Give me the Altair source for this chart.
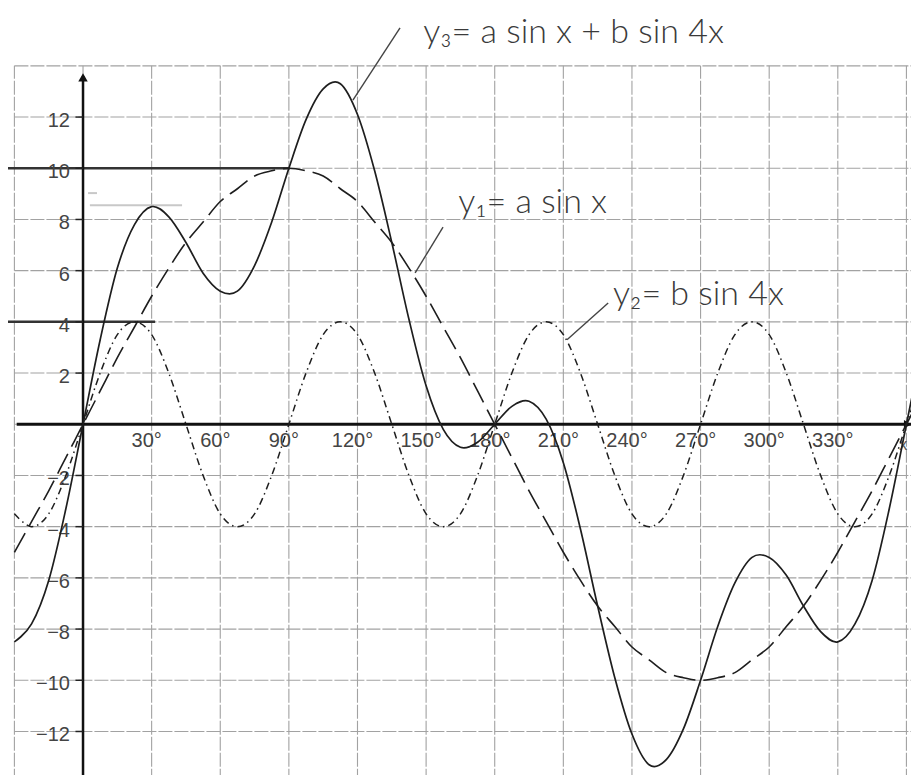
import altair as alt
import pandas as pd

# ---- data (degrees, function values) ----
X_DEG = [-30, -22.5, -15, -7.5, 0, 7.5, 15, 22.5, 30, 37.5, 45, 52.5, 60, 67.5, 75, 82.5,
         90, 97.5, 105, 112.5, 120, 127.5, 135, 142.5, 150, 157.5, 165, 172.5,
         180, 187.5, 195, 202.5, 210, 217.5, 225, 232.5, 240, 247.5, 255, 262.5,
         270, 277.5, 285, 292.5, 300, 307.5, 315, 322.5, 330, 337.5, 345, 352.5, 360, 367.5]
Y1 = [-5.0, -3.8, -2.6, -1.3, 0.0, 1.3, 2.6, 3.8, 5.0, 6.1, 7.1, 7.9, 8.7, 9.2, 9.7, 9.9,
      10.0, 9.9, 9.7, 9.2, 8.7, 7.9, 7.1, 6.1, 5.0, 3.8, 2.6, 1.3,
      0.0, -1.3, -2.6, -3.8, -5.0, -6.1, -7.1, -7.9, -8.7, -9.2, -9.7, -9.9,
      -10.0, -9.9, -9.7, -9.2, -8.7, -7.9, -7.1, -6.1, -5.0, -3.8, -2.6, -1.3, 0.0, 1.3]
Y2 = [-3.5, -4.0, -3.5, -2.0, 0.0, 2.0, 3.5, 4.0, 3.5, 2.0, 0.0, -2.0, -3.5, -4.0, -3.5, -2.0,
      0.0, 2.0, 3.5, 4.0, 3.5, 2.0, 0.0, -2.0, -3.5, -4.0, -3.5, -2.0,
      0.0, 2.0, 3.5, 4.0, 3.5, 2.0, 0.0, -2.0, -3.5, -4.0, -3.5, -2.0,
      0.0, 2.0, 3.5, 4.0, 3.5, 2.0, 0.0, -2.0, -3.5, -4.0, -3.5, -2.0, 0.0, 2.0]
Y3 = [-8.5, -7.8, -6.1, -3.3, 0.0, 3.3, 6.1, 7.8, 8.5, 8.1, 7.1, 5.9, 5.2, 5.2, 6.2, 7.9,
      10.0, 11.9, 13.1, 13.3, 12.1, 9.9, 7.1, 4.1, 1.5, -0.2, -0.9, -0.7,
      0.0, 0.7, 0.9, 0.2, -1.5, -4.1, -7.1, -9.9, -12.1, -13.3, -13.1, -11.9,
      -10.0, -7.9, -6.2, -5.2, -5.2, -5.9, -7.1, -8.1, -8.5, -7.8, -6.1, -3.3, 0.0, 3.3]

GRID_X = [-30, 0, 30, 60, 90, 120, 150, 180, 210, 240, 270, 300, 330, 360]
GRID_Y = [-14, -12, -10, -8, -6, -4, -2, 0, 2, 4, 6, 8, 10, 12, 14]

Y_TICKS = [-12, -10, -8, -6, -4, -2, 2, 4, 6, 8, 10, 12]
Y_LABELS = ["\u221212", "\u221210", "\u22128", "\u22126", "\u22124", "\u22122",
            "2", "4", "6", "8", "10", "12"]
X_TICKS = [30, 60, 90, 120, 150, 180, 210, 240, 270, 300, 330]
X_LABELS = ["30°", "60°", "90°", "120°", "150°", "180°", "210°", "240°", "270°", "300°", "330°"]

EQ_TEXT = ["y\u2083= a sin x + b sin 4x", "y\u2081= a sin x", "y\u2082= b sin 4x"]
EQ_X = [148.7, 164.0, 231.7]
EQ_Y = [14.9, 8.25, 4.66]
LEAD_X = [118.0, 145.2, 211.6]
LEAD_Y = [12.66, 5.91, 3.3]
LEAD_X2 = [138.6, 157.4, 229.6]
LEAD_Y2 = [15.48, 7.7, 4.74]

# hand drawn helper lines (value, from, to)
HAND_Y = [10.0, 4.0]
HAND_X1 = [-34.0, -34.0]
HAND_X2 = [90.5, 31.5]

XD = [-32.8, 362.0]
YD = [-13.70, 16.26]

xs = alt.Scale(domain=XD, nice=False, zero=False)
ys = alt.Scale(domain=YD, nice=False, zero=False)

curves = pd.DataFrame({"x": X_DEG, "y1": Y1, "y2": Y2, "y3": Y3})
vgrid = pd.DataFrame({"x": GRID_X, "y": [-14] * len(GRID_X), "y2": [14] * len(GRID_X)})
hgrid = pd.DataFrame({"y": GRID_Y, "x": [-30] * len(GRID_Y), "x2": [370] * len(GRID_Y)})
yt = pd.DataFrame({"v": Y_TICKS, "lab": Y_LABELS,
                   "t0": [-3.3] * len(Y_TICKS), "t1": [0.0] * len(Y_TICKS),
                   "lx": [-5.7] * len(Y_TICKS)})
xt = pd.DataFrame({"v": X_TICKS, "lab": X_LABELS, "ly": [-0.66] * len(X_TICKS)})
eq = pd.DataFrame({"t": EQ_TEXT, "x": EQ_X, "y": EQ_Y})
lead = pd.DataFrame({"x": LEAD_X, "y": LEAD_Y, "x2": LEAD_X2, "y2": LEAD_Y2})
hand = pd.DataFrame({"y": HAND_Y, "x": HAND_X1, "x2": HAND_X2})


def X(f):
    return alt.X(f, type="quantitative", scale=xs, axis=None)


def Y(f):
    return alt.Y(f, type="quantitative", scale=ys, axis=None)


grid_v = alt.Chart(vgrid).mark_rule(color="#a2a2a2", strokeWidth=1.1, strokeDash=[14, 2], clip=True).encode(
    x=X("x"), y=Y("y"), y2=alt.Y2("y2"))
grid_h = alt.Chart(hgrid).mark_rule(color="#a2a2a2", strokeWidth=1.1, strokeDash=[14, 2], clip=True).encode(
    y=Y("y"), x=X("x"), x2=alt.X2("x2"))

hand_lines = alt.Chart(hand).mark_rule(color="#333333", strokeWidth=2.5, clip=True).encode(
    y=Y("y"), x=X("x"), x2=alt.X2("x2"))
faint = alt.Chart(pd.DataFrame({"y": [8.56, 9.03], "x": [3.0, 2.2], "x2": [43.3, 6.1]})).mark_rule(
    color="#c8c8c8", strokeWidth=2).encode(y=Y("y"), x=X("x"), x2=alt.X2("x2"))

x_axis = alt.Chart(pd.DataFrame({"x": [-29.0], "x2": [362.0], "y": [0.0]})).mark_rule(
    color="#111111", strokeWidth=3, clip=True).encode(x=X("x"), x2=alt.X2("x2"), y=Y("y"))
y_axis = alt.Chart(pd.DataFrame({"x": [0.0], "y": [-14.0], "y2": [13.6]})).mark_rule(
    color="#111111", strokeWidth=2.5, clip=True).encode(x=X("x"), y=Y("y"), y2=alt.Y2("y2"))
arrow_up = alt.Chart(pd.DataFrame({"x": [0.0], "y": [13.55]})).mark_point(
    shape="triangle-up", filled=True, color="#111111", size=90, opacity=1).encode(x=X("x"), y=Y("y"))
arrow_right = alt.Chart(pd.DataFrame({"x": [360.5], "y": [0.0]})).mark_point(
    shape="triangle-right", filled=True, color="#111111", size=70, opacity=1).encode(x=X("x"), y=Y("y"))

y_tick_marks = alt.Chart(yt).mark_rule(color="#222222", strokeWidth=1.5).encode(
    y=Y("v"), x=X("t0"), x2=alt.X2("t1"))
y_tick_labels = alt.Chart(yt).mark_text(
    align="right", baseline="middle", dy=4, font="Liberation Sans", fontSize=20, color="#444444").encode(
    y=Y("v"), x=X("lx"), text="lab:N")
x_tick_labels = alt.Chart(xt).mark_text(
    align="center", baseline="middle", dx=-5, font="Liberation Sans", fontSize=20, color="#444444").encode(
    x=X("v"), y=Y("ly"), text="lab:N")
x_name = alt.Chart(pd.DataFrame({"x": [358.6], "y": [-0.8], "t": ["x"]})).mark_text(
    align="center", baseline="middle", font="Liberation Sans", fontSize=16, color="#555555").encode(
    x=X("x"), y=Y("y"), text="t:N")

line1 = alt.Chart(curves).mark_line(color="#1e1e1e", strokeWidth=1.6, strokeDash=[22, 8],
                                    interpolate="cardinal", clip=True).encode(x=X("x"), y=Y("y1"))
line2 = alt.Chart(curves).mark_line(color="#1e1e1e", strokeWidth=1.5, strokeDash=[7, 4, 1.5, 4],
                                    interpolate="cardinal", clip=True).encode(x=X("x"), y=Y("y2"))
line3 = alt.Chart(curves).mark_line(color="#1e1e1e", strokeWidth=1.7,
                                    interpolate="cardinal", clip=True).encode(x=X("x"), y=Y("y3"))

leaders = alt.Chart(lead).mark_rule(color="#444444", strokeWidth=1.4).encode(
    x=X("x"), y=Y("y"), x2=alt.X2("x2"), y2=alt.Y2("y2"))
eq_text = alt.Chart(eq).mark_text(
    align="left", baseline="alphabetic", font="Lato", fontWeight=300, fontSize=34, color="#3a3a3a").encode(
    x=X("x"), y=Y("y"), text="t:N")

chart = alt.layer(
    grid_v, grid_h, faint, hand_lines, x_axis, y_axis, arrow_up, arrow_right,
    y_tick_marks, y_tick_labels, x_tick_labels, x_name,
    line1, line2, line3, leaders, eq_text
).properties(
    width=903, height=767, autosize=alt.AutoSizeParams(type="none"), padding=0
).configure_view(stroke=None)

chart.save("out.html", embed_options={"renderer": "svg", "actions": False})
